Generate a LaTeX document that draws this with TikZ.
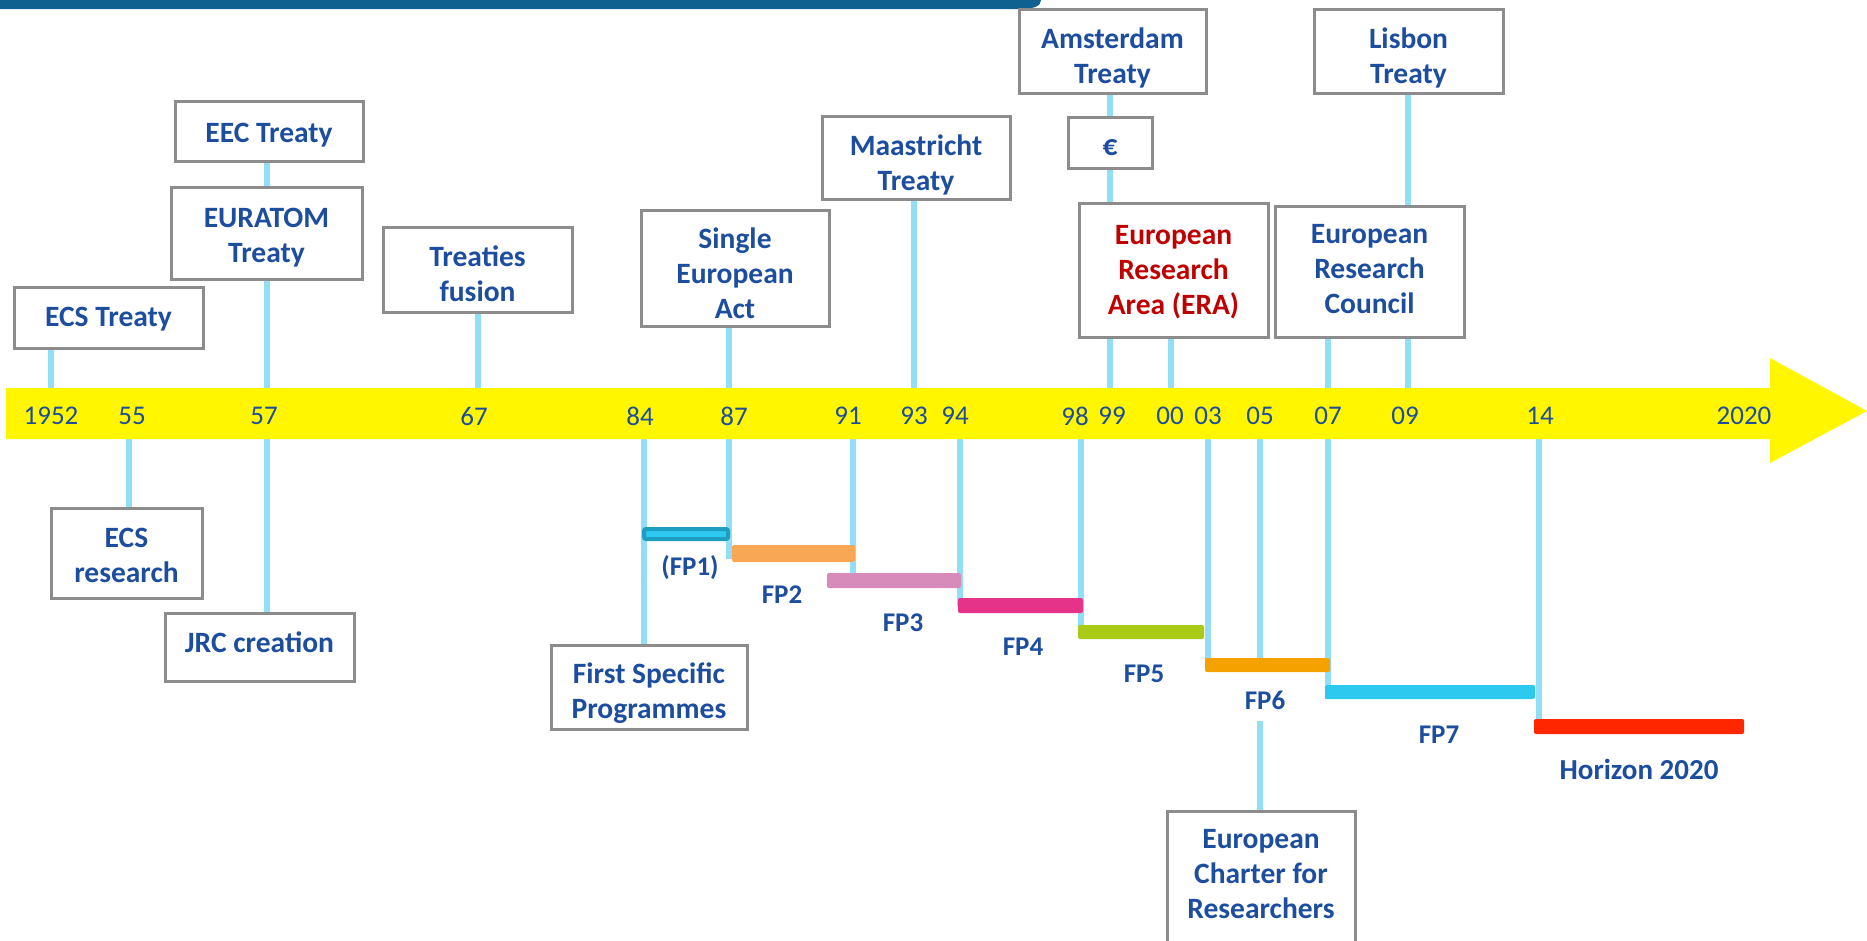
\documentclass[tikz,border=0pt]{standalone}
\usepackage{fontspec}
\setmainfont{Carlito}
\definecolor{txtblue}{RGB}{28,77,158}
\definecolor{erared}{RGB}{192,0,0}
\definecolor{boxgray}{RGB}{140,140,140}
\definecolor{vlinec}{RGB}{146,222,247}
\definecolor{bandyellow}{RGB}{255,246,0}
\definecolor{bannerblue}{RGB}{15,97,144}
\definecolor{fpadark}{RGB}{29,157,194}
\definecolor{fpalight}{RGB}{47,201,240}
\definecolor{fpb}{RGB}{248,167,85}
\definecolor{fpc}{RGB}{215,139,187}
\definecolor{fpd}{RGB}{229,51,138}
\definecolor{fpe}{RGB}{169,203,23}
\definecolor{fpf}{RGB}{245,162,0}
\definecolor{fpg}{RGB}{45,201,239}
\definecolor{fph}{RGB}{255,38,0}
\newcommand\tbox[2]{\raisebox{-#1pt}[\height][\depth]{\begin{tabular}{@{}c@{}}#2\end{tabular}}}
\pgfdeclarelayer{lines}
\pgfsetlayers{lines,main}
\begin{document}
\begin{tikzpicture}[x=1pt,y=-1pt,
  box/.style={draw=boxgray, line width=3pt, fill=white, text=txtblue,
    font=\bfseries\fontsize{29.5}{35}\selectfont, align=center, inner sep=0pt},
  yr/.style={text=txtblue, font=\fontsize{27}{32}\selectfont, inner sep=0pt},
  fpl/.style={text=txtblue, font=\bfseries\fontsize{27}{32}\selectfont, inner sep=0pt},
  bar/.style={rounded corners=2pt, inner sep=0pt, minimum height=15pt},
  vline/.style={draw=vlinec, line width=6.5pt}]
\useasboundingbox (0,0) rectangle (1867,940);

% banner
\fill[bannerblue] (-5,-5) -- (1041,-5) -- (1041,0) .. controls (1041,6) and (1034,9) .. (1020,9) -- (-5,9) -- cycle;

% time arrow
\fill[bandyellow] (6,388) -- (1770,388) -- (1770,358) -- (1867,411) -- (1770,463) -- (1770,439) -- (6,439) -- cycle;
\coordinate (bandT) at (0,388);
\coordinate (bandB) at (0,439);

% year labels
\node[yr] (y52) at (51,416) {1952};
\node[yr] (y55) at (132,416) {55};
\node[yr] (y57) at (264,416) {57};
\node[yr] (y67) at (474,416) {67};
\node[yr] (y84) at (640,416) {84};
\node[yr] (y87) at (734,416) {87};
\node[yr] (y91) at (848,416) {91};
\node[yr] (y93) at (914,416) {93};
\node[yr] (y94) at (955,416) {94};
\node[yr] (y98) at (1075,416) {98};
\node[yr] (y99) at (1112,416) {99};
\node[yr] (y00) at (1170,416) {00};
\node[yr] (y03) at (1208,416) {03};
\node[yr] (y05) at (1260,416) {05};
\node[yr] (y07) at (1328,416) {07};
\node[yr] (y09) at (1405,416) {09};
\node[yr] (y14) at (1540,416) {14};
\node[yr] (y20) at (1744,416) {2020};

% line x positions
\coordinate (l52) at (51,0);
\coordinate (l55) at (129,0);
\coordinate (l57) at (267,0);
\coordinate (l67) at (478,0);
\coordinate (l84) at (644,0);
\coordinate (l87) at (729,0);
\coordinate (l91) at (853,0);
\coordinate (l93) at (914,0);
\coordinate (l94) at (960,0);
\coordinate (l98) at (1081,0);
\coordinate (l99) at (1110,0);
\coordinate (l00) at (1171,0);
\coordinate (l03) at (1208,0);
\coordinate (l05) at (1260,0);
\coordinate (l07) at (1328,0);
\coordinate (l09) at (1408,0);
\coordinate (l14) at (1539,0);
\coordinate (c05) at (1260,721);

% boxes above
\node[box, minimum width=189pt, minimum height=61pt] (ecsT) at (108.5,317.5) {\tbox{2}{ECS Treaty}};
\node[box, minimum width=188pt, minimum height=60pt] (eec) at (269,131) {\tbox{4}{EEC Treaty}};
\node[box, minimum width=191pt, minimum height=92pt] (eur) at (266.5,233) {\tbox{5}{EURATOM\\Treaty}};
\node[box, minimum width=189pt, minimum height=85pt] (tf) at (477.5,269.5) {\tbox{7}{Treaties\\fusion}};
\node[box, minimum width=188pt, minimum height=116pt] (sea) at (735,268) {\tbox{8}{Single\\European\\Act}};
\node[box, minimum width=188pt, minimum height=83pt] (maas) at (916,157.5) {\tbox{8}{Maastricht\\Treaty}};
\node[box, minimum width=187pt, minimum height=84pt] (amst) at (1112.5,51) {\tbox{8}{Amsterdam\\Treaty}};
\node[box, minimum width=84pt, minimum height=51pt] (euro) at (1110,142.5) {\tbox{6}{€}};
\node[box, text=erared, minimum width=189pt, minimum height=134pt] (era) at (1173.5,270) {\tbox{2}{European\\Research\\Area (ERA)}};
\node[box, minimum width=189pt, minimum height=131pt] (erc) at (1369.5,271.5) {\tbox{0}{European\\Research\\Council}};
\node[box, minimum width=189pt, minimum height=84pt] (lis) at (1408.5,51) {\tbox{8}{Lisbon\\Treaty}};

% boxes below
\node[box, minimum width=151pt, minimum height=90pt] (ecsR) at (126.5,553) {\tbox{5}{ECS\\research}};
\node[box, minimum width=189pt, minimum height=68pt] (jrc) at (259.5,647) {\tbox{-2}{JRC creation}};
\node[box, minimum width=196pt, minimum height=84pt] (fsp) at (649,687) {\tbox{7}{First Specific\\Programmes}};
\node[box, minimum width=188pt, minimum height=140pt] (chart) at (1261,881) {\tbox{-5}{European\\Charter for\\Researchers}};

% programme bars
\node[bar, draw=fpadark, line width=4pt, fill=fpalight, minimum width=84pt, minimum height=10pt] (fp1) at (686,534) {};
\node[bar, fill=fpb, minimum width=123pt, minimum height=17pt] (fp2) at (793.5,553.5) {};
\node[bar, fill=fpc, minimum width=134pt] (fp3) at (894,580.5) {};
\node[bar, fill=fpd, minimum width=125pt] (fp4) at (1020.5,605.5) {};
\node[bar, fill=fpe, minimum width=126pt, minimum height=14pt] (fp5) at (1141,632) {};
\node[bar, fill=fpf, minimum width=125pt, minimum height=14pt] (fp6) at (1267.5,665) {};
\node[bar, fill=fpg, minimum width=210pt, minimum height=14pt] (fp7) at (1430,692) {};
\node[bar, fill=fph, minimum width=210pt] (h20) at (1639,726.5) {};

% programme labels
\node[fpl] (t1) at (690,568) {(FP1)};
\node[fpl] (t2) at (782,595) {FP2};
\node[fpl] (t3) at (903,623) {FP3};
\node[fpl] (t4) at (1023,647) {FP4};
\node[fpl] (t5) at (1144,674) {FP5};
\node[fpl] (t6) at (1265,700) {FP6};
\node[fpl] (t7) at (1439,735) {FP7};
\node[fpl, font=\bfseries\fontsize{29}{32}\selectfont] (th) at (1639,769) {Horizon 2020};

% connectors
\begin{pgfonlayer}{lines}
\draw[vline] (l52 |- ecsT.south) -- (l52 |- bandT);
\draw[vline] (l57 |- eec.south) -- (l57 |- eur.north);
\draw[vline] (l57 |- eur.south) -- (l57 |- bandT);
\draw[vline] (l67 |- tf.south) -- (l67 |- bandT);
\draw[vline] (l87 |- sea.south) -- (l87 |- bandT);
\draw[vline] (l93 |- maas.south) -- (l93 |- bandT);
\draw[vline] (l99 |- amst.south) -- (l99 |- euro.north);
\draw[vline] (l99 |- euro.south) -- (l99 |- era.north);
\draw[vline] (l99 |- era.south) -- (l99 |- bandT);
\draw[vline] (l00 |- era.south) -- (l00 |- bandT);
\draw[vline] (l07 |- erc.south) -- (l07 |- bandT);
\draw[vline] (l09 |- lis.south) -- (l09 |- erc.north);
\draw[vline] (l09 |- erc.south) -- (l09 |- bandT);
\draw[vline] (l55 |- bandB) -- (l55 |- ecsR.north);
\draw[vline] (l57 |- bandB) -- (l57 |- jrc.north);
\draw[vline] (l84 |- bandB) -- (l84 |- fsp.north);
\draw[vline, shorten >=3pt] (l87 |- bandB) -- (l87 |- fp2.south);
\draw[vline] (l91 |- bandB) -- (l91 |- fp3.south);
\draw[vline] (l94 |- bandB) -- (l94 |- fp4.center);
\draw[vline] (l98 |- bandB) -- (l98 |- fp5.center);
\draw[vline] (l03 |- bandB) -- (l03 |- fp6.center);
\draw[vline] (l05 |- bandB) -- (l05 |- fp6.center);
\draw[vline] (c05) -- (l05 |- chart.north);
\draw[vline] (l07 |- bandB) -- (l07 |- fp7.south);
\draw[vline] (l14 |- bandB) -- (l14 |- h20.center);
\end{pgfonlayer}
\end{tikzpicture}
\end{document}
